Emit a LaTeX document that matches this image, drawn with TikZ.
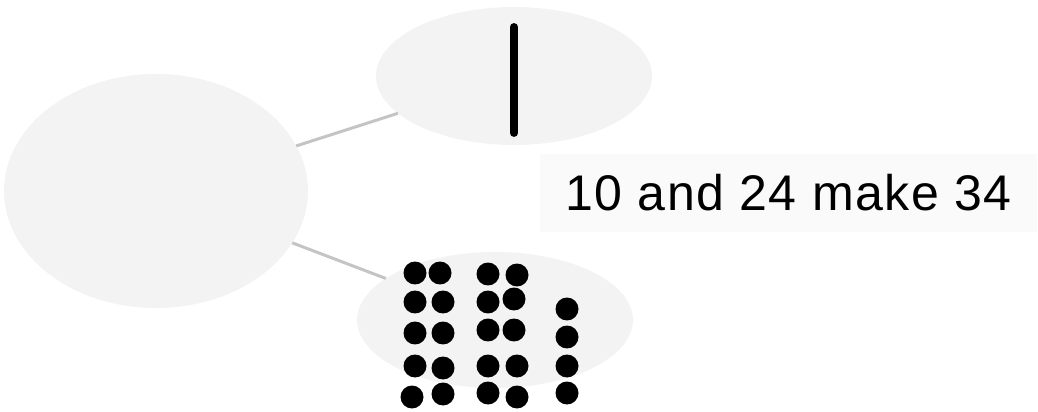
\documentclass[tikz,border=0pt]{standalone}
\usepackage{fontspec}
\setmainfont{Liberation Sans}
\usepackage{xcolor}
\usetikzlibrary{shapes.geometric, positioning, calc}

\definecolor{bubblegray}{HTML}{F3F3F3}
\definecolor{boxgray}{HTML}{FAFAFA}
\definecolor{linkgray}{HTML}{C4C4C4}

\begin{document}
\begin{tikzpicture}[x=0.02cm, y=-0.02cm,
  bubble/.style={ellipse, fill=bubblegray, inner sep=0pt, outer sep=0pt},
  link/.style={draw=linkgray, line width=1.7pt},
  dot/.style={fill=black}]
\useasboundingbox (0,0) rectangle (1038,412);
% bubbles
\node[bubble, minimum width=6.08cm, minimum height=4.68cm] (whole) at (156,191) {};
\node[bubble, minimum width=5.52cm, minimum height=2.76cm] (tens) at (514,76) {};
\node[bubble, minimum width=5.52cm, minimum height=2.72cm] (ones) at (495,320) {};
\draw[link] (whole) -- (tens);
\draw[link] (whole) -- (ones);
% ten stick
\coordinate (sticktop) at (514,27);
\coordinate (stickbot) at (514,133);
\draw[line width=4.5pt, line cap=round] (sticktop) -- (stickbot);
% ones dots
\foreach \x/\y in {415/273, 440/273, 415/302, 443/302, 415/333, 443/333,
  415/366, 443/368, 412/397, 443/394,
  488/274, 517/275, 488/302, 514/299, 488/330, 514/330,
  488/366, 517/366, 488/393, 517/397,
  567/309, 567/337, 567/366, 567/393}
  \fill[dot] (\x,\y) circle[radius=0.23cm];
% sum label
\node[fill=boxgray, minimum width=9.94cm, minimum height=1.58cm, inner sep=0pt,
  font=\fontsize{28.5}{30}\selectfont\addfontfeature{LetterSpace=3}] (sum) at (788.5,193) {10 and 24 make 34};
\end{tikzpicture}
\end{document}
